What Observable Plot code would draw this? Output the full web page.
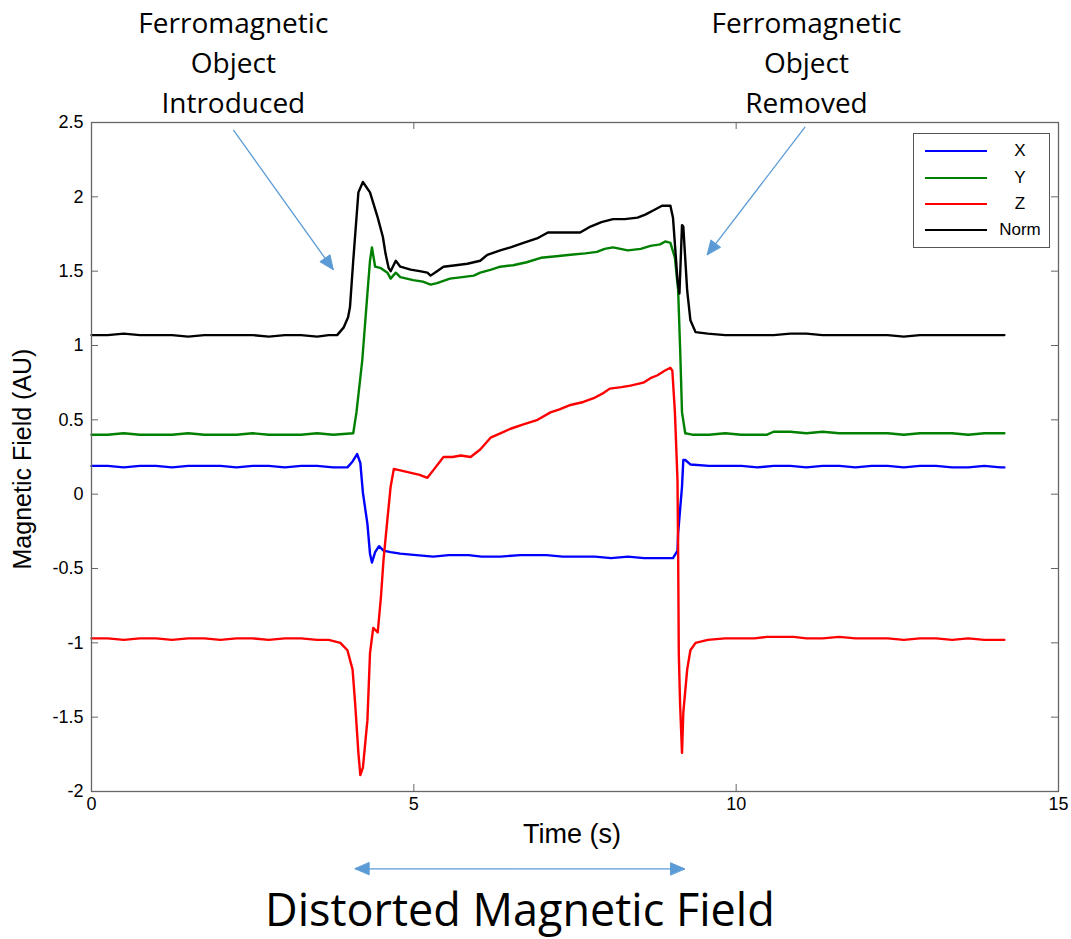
<!DOCTYPE html>
<html><head><meta charset="utf-8">
<script src="https://cdn.jsdelivr.net/npm/d3@7"></script>
<script src="https://cdn.jsdelivr.net/npm/@observablehq/plot@0.6"></script>
<style>
body{margin:0;background:#fff;}
#wrap{position:relative;width:1071px;height:939px;}
#legend{position:absolute;left:913px;top:133px;width:137px;height:115px;border:1px solid #555;background:#fff;box-sizing:border-box;font-family:"Liberation Sans",Arial,sans-serif;font-size:17px;color:#000;}
.row{position:absolute;left:0;width:100%;height:0;}
.sw{position:absolute;left:11px;width:62px;height:0;border-top:2.5px solid;top:-1px;}
.lab{position:absolute;left:76px;width:60px;text-align:center;top:-10px;line-height:20px;}
</style>
</head><body>
<div id="wrap"><div id="legend"></div></div>
<script>
// ---- data: [time (s), field (AU)] ----
const seriesNames = ["X", "Y", "Z", "Norm"];
const seriesColors = ["#0000ff", "#008000", "#ff0000", "#000000"];

const dataX = [
  [0,0.19],[0.25,0.19],[0.5,0.18],[0.75,0.19],[1,0.19],[1.25,0.18],[1.5,0.19],[1.75,0.19],[2,0.19],[2.25,0.18],
  [2.5,0.19],[2.75,0.19],[3,0.18],[3.25,0.19],[3.5,0.19],[3.75,0.18],[3.97,0.18],[4.05,0.22],[4.12,0.27],[4.17,0.21],
  [4.21,0.01],[4.28,-0.20],[4.32,-0.40],[4.35,-0.46],[4.40,-0.39],[4.46,-0.35],[4.53,-0.38],[4.64,-0.39],[4.79,-0.40],
  [5.04,-0.41],[5.30,-0.42],[5.54,-0.41],[5.85,-0.41],[6.05,-0.42],[6.34,-0.42],[6.65,-0.41],[7.06,-0.41],[7.31,-0.42],
  [7.56,-0.42],[7.81,-0.42],[8.06,-0.43],[8.32,-0.42],[8.57,-0.43],[8.82,-0.43],[9.02,-0.43],[9.09,-0.38],[9.10,-0.26],
  [9.16,0.05],[9.18,0.23],[9.21,0.23],[9.29,0.20],[9.58,0.19],[9.83,0.19],[10.08,0.19],[10.33,0.18],[10.58,0.19],
  [10.84,0.19],[11.09,0.18],[11.34,0.19],[11.6,0.19],[11.85,0.18],[12.1,0.19],[12.35,0.19],[12.6,0.18],[12.85,0.19],
  [13.1,0.19],[13.35,0.18],[13.6,0.18],[13.85,0.19],[14.1,0.18],[14.16,0.18]
];
const dataY = [
  [0,0.40],[0.25,0.40],[0.5,0.41],[0.75,0.40],[1,0.40],[1.25,0.40],[1.5,0.41],[1.75,0.40],[2,0.40],[2.25,0.40],
  [2.5,0.41],[2.75,0.40],[3,0.40],[3.25,0.40],[3.5,0.41],[3.75,0.40],[4.06,0.41],[4.11,0.55],[4.20,0.90],[4.28,1.35],
  [4.32,1.57],[4.35,1.66],[4.40,1.53],[4.49,1.52],[4.59,1.49],[4.64,1.45],[4.72,1.49],[4.79,1.46],[4.89,1.45],
  [4.99,1.44],[5.14,1.43],[5.26,1.41],[5.36,1.42],[5.56,1.45],[5.75,1.46],[5.93,1.47],[6.03,1.49],[6.20,1.51],
  [6.34,1.53],[6.54,1.54],[6.75,1.56],[6.97,1.59],[7.21,1.60],[7.43,1.61],[7.66,1.62],[7.84,1.63],[7.96,1.65],
  [8.09,1.66],[8.32,1.64],[8.52,1.65],[8.67,1.67],[8.82,1.68],[8.90,1.70],[8.98,1.69],[9.05,1.59],[9.10,1.37],
  [9.13,0.99],[9.16,0.55],[9.21,0.41],[9.32,0.40],[9.58,0.40],[9.83,0.41],[10.08,0.40],[10.28,0.40],[10.48,0.40],
  [10.58,0.42],[10.84,0.42],[11.09,0.41],[11.34,0.42],[11.6,0.41],[11.85,0.41],[12.1,0.41],[12.35,0.41],[12.6,0.40],
  [12.85,0.41],[13.1,0.41],[13.35,0.41],[13.6,0.40],[13.85,0.41],[14.16,0.41]
];
const dataZ = [
  [0,-0.97],[0.25,-0.97],[0.5,-0.98],[0.75,-0.97],[1,-0.97],[1.25,-0.98],[1.5,-0.97],[1.75,-0.97],[2,-0.98],
  [2.25,-0.97],[2.5,-0.97],[2.75,-0.98],[3,-0.97],[3.25,-0.97],[3.5,-0.98],[3.68,-0.98],[3.86,-1.00],[3.97,-1.05],
  [4.05,-1.18],[4.09,-1.41],[4.14,-1.74],[4.17,-1.89],[4.21,-1.84],[4.28,-1.52],[4.32,-1.07],[4.37,-0.90],
  [4.44,-0.93],[4.49,-0.69],[4.53,-0.44],[4.59,-0.17],[4.64,0.05],[4.69,0.17],[4.79,0.16],[4.89,0.15],[4.99,0.14],
  [5.09,0.13],[5.21,0.11],[5.30,0.16],[5.46,0.25],[5.6,0.25],[5.73,0.26],[5.88,0.25],[6.03,0.30],[6.19,0.38],
  [6.35,0.41],[6.5,0.44],[6.7,0.47],[6.92,0.50],[7.12,0.55],[7.26,0.57],[7.43,0.60],[7.63,0.62],[7.81,0.65],
  [7.94,0.68],[8.04,0.71],[8.22,0.72],[8.36,0.73],[8.56,0.75],[8.67,0.78],[8.78,0.80],[8.89,0.83],[8.98,0.85],
  [9.01,0.83],[9.05,0.55],[9.09,0.09],[9.10,-0.40],[9.11,-1.07],[9.13,-1.41],[9.16,-1.74],[9.18,-1.47],
  [9.24,-1.18],[9.29,-1.05],[9.37,-1.00],[9.56,-0.98],[9.83,-0.97],[10.06,-0.97],[10.28,-0.97],[10.48,-0.96],
  [10.69,-0.96],[10.89,-0.96],[11.09,-0.97],[11.34,-0.97],[11.6,-0.96],[11.85,-0.97],[12.1,-0.97],[12.35,-0.97],
  [12.6,-0.98],[12.85,-0.97],[13.1,-0.97],[13.35,-0.98],[13.6,-0.97],[13.85,-0.98],[14.16,-0.98]
];
const dataNorm = [
  [0,1.07],[0.25,1.07],[0.5,1.08],[0.75,1.07],[1,1.07],[1.25,1.07],[1.5,1.06],[1.75,1.07],[2,1.07],[2.25,1.07],
  [2.5,1.07],[2.75,1.06],[3,1.07],[3.25,1.07],[3.5,1.06],[3.68,1.07],[3.81,1.07],[3.91,1.12],[3.98,1.19],[4.01,1.26],
  [4.06,1.57],[4.14,2.03],[4.21,2.10],[4.32,2.03],[4.44,1.86],[4.52,1.73],[4.56,1.62],[4.61,1.52],[4.64,1.50],
  [4.72,1.57],[4.79,1.53],[4.95,1.51],[5.09,1.50],[5.21,1.49],[5.26,1.47],[5.36,1.50],[5.46,1.53],[5.65,1.54],
  [5.83,1.55],[6.03,1.57],[6.14,1.61],[6.34,1.64],[6.5,1.66],[6.7,1.69],[6.91,1.72],[7.08,1.76],[7.31,1.76],
  [7.58,1.76],[7.74,1.80],[7.91,1.83],[8.09,1.85],[8.27,1.85],[8.47,1.86],[8.59,1.88],[8.72,1.91],[8.85,1.94],
  [8.98,1.94],[9.02,1.86],[9.09,1.44],[9.12,1.35],[9.16,1.81],[9.18,1.80],[9.24,1.37],[9.29,1.17],[9.37,1.09],
  [9.56,1.08],[9.83,1.07],[10.08,1.07],[10.33,1.07],[10.58,1.07],[10.84,1.08],[11.09,1.08],[11.34,1.07],[11.6,1.07],
  [11.85,1.07],[12.1,1.07],[12.35,1.07],[12.6,1.06],[12.85,1.07],[13.1,1.07],[13.35,1.07],[13.6,1.07],[13.85,1.07],[14.16,1.07]
];

const xTicks = [0, 5, 10, 15];
const yTicks = [-2, -1.5, -1, -0.5, 0, 0.5, 1, 1.5, 2, 2.5];

const annotLabels = ["Ferromagnetic\nObject\nIntroduced", "Ferromagnetic\nObject\nRemoved"];
const annotLabelT = [2.20, 11.09];
const annotLabelV = [2.92, 2.92];
const annotArrowFromT = [2.20, 11.07];
const annotArrowFromV = [2.45, 2.47];
const annotArrowToT = [3.75, 9.55];
const annotArrowToV = [1.51, 1.61];
const distortedStart = 4.09, distortedEnd = 9.20, distortedArrowV = -2.52;
const distortedCaption = "Distorted Magnetic Field", distortedCaptionV = -2.81;

// ---- build tables ----
const seriesData = [dataX, dataY, dataZ, dataNorm];
const rows = seriesNames.flatMap((name, k) => seriesData[k].map(([t, v]) => ({series: name, t, v})));
const annots = annotLabels.map((label, i) => ({label, t: annotLabelT[i], v: annotLabelV[i]}));
const mid = (distortedStart + distortedEnd) / 2;
const arrows = annotArrowFromT.map((t, i) => ({x1: t, y1: annotArrowFromV[i], x2: annotArrowToT[i], y2: annotArrowToV[i]}))
  .concat([distortedStart, distortedEnd].map(e => ({x1: mid, y1: distortedArrowV, x2: e, y2: distortedArrowV})));

const W = 1071, H = 939, mL = 91, mR = 13, mT = 122, mB = 148;
const innerW = W - mL - mR, innerH = H - mT - mB;
const xDomain = [0, 15], yDomain = [-2, 2.5];
const kx = innerW / (xDomain[1] - xDomain[0]), ky = innerH / (yDomain[1] - yDomain[0]);
arrows.forEach(a => { a.angle = Math.atan2((a.x2 - a.x1) * kx, (a.y2 - a.y1) * ky) * 180 / Math.PI; });

const tickLen = 7, axisColor = "#666";
const arrowColor = "#5b9bd5";

const headShape = {
  draw(context, l) {
    context.moveTo(0, -l);
    context.lineTo(-6, 0);
    context.lineTo(6, 0);
    context.closePath();
  }
};
let headMark;
try {
  headMark = Plot.vector(arrows, {x: "x2", y: "y2", rotate: "angle", length: 14, anchor: "end", shape: headShape, fill: arrowColor, stroke: arrowColor, strokeWidth: 1});
} catch (e) {
  headMark = Plot.arrow(arrows, {x1: "x1", y1: "y1", x2: "x2", y2: "y2", stroke: arrowColor, strokeWidth: 1.5, headLength: 14});
}

const chart = Plot.plot({
  width: W, height: H,
  marginLeft: mL, marginRight: mR, marginTop: mT, marginBottom: mB,
  x: {domain: xDomain},
  y: {domain: yDomain},
  color: {type: "ordinal", domain: seriesNames, range: seriesColors},
  style: {fontFamily: "'Liberation Sans', Arial, sans-serif", fontSize: "18px", background: "white", color: "black", overflow: "visible"},
  marks: [
    Plot.tickX(xTicks, {x: d => d, insetTop: innerH - tickLen, stroke: axisColor}),
    Plot.tickX(xTicks, {x: d => d, insetBottom: innerH - tickLen, stroke: axisColor}),
    Plot.tickY(yTicks, {y: d => d, insetRight: innerW - tickLen, stroke: axisColor}),
    Plot.tickY(yTicks, {y: d => d, insetLeft: innerW - tickLen, stroke: axisColor}),
    Plot.axisX(xTicks, {tickSize: 0, tickPadding: 6, label: null, fontSize: 18, tickFormat: d => String(d)}),
    Plot.axisY(yTicks, {tickSize: 0, tickPadding: 8, label: null, fontSize: 18, tickFormat: d => String(d)}),
    Plot.line(rows, {x: "t", y: "v", z: "series", stroke: "series", strokeWidth: 2.4}),
    Plot.frame({stroke: axisColor, strokeWidth: 1.3}),
    Plot.text(["Time (s)"], {frameAnchor: "bottom", textAnchor: "middle", lineAnchor: "middle", dx: -3, dy: 43, fontSize: 27}),
    Plot.text(["Magnetic Field (AU)"], {frameAnchor: "left", textAnchor: "middle", lineAnchor: "middle", rotate: -90, dx: -69, dy: 2, fontSize: 25}),
    Plot.link(arrows, {x1: "x1", y1: "y1", x2: "x2", y2: "y2", stroke: arrowColor, strokeWidth: 1.3}),
    headMark,
    Plot.text(annots, {x: "t", y: "v", text: "label", fontFamily: "'Open Sans', sans-serif", fontSize: 28, lineHeight: 1.43, fill: "black"}),
    Plot.text([distortedCaption], {x: mid, y: distortedCaptionV, fontFamily: "'Open Sans', sans-serif", fontSize: 45, fill: "black"})
  ]
});
const wrap = document.getElementById("wrap");
wrap.insertBefore(chart, wrap.firstChild);

const legend = document.getElementById("legend");
const rowTops = [17, 44, 70, 96];
seriesNames.forEach((name, i) => {
  const r = document.createElement("div");
  r.className = "row";
  r.style.top = rowTops[i] + "px";
  r.innerHTML = `<div class="sw" style="border-color:${seriesColors[i]}"></div><div class="lab">${name}</div>`;
  legend.appendChild(r);
});
</script>
</body></html>
